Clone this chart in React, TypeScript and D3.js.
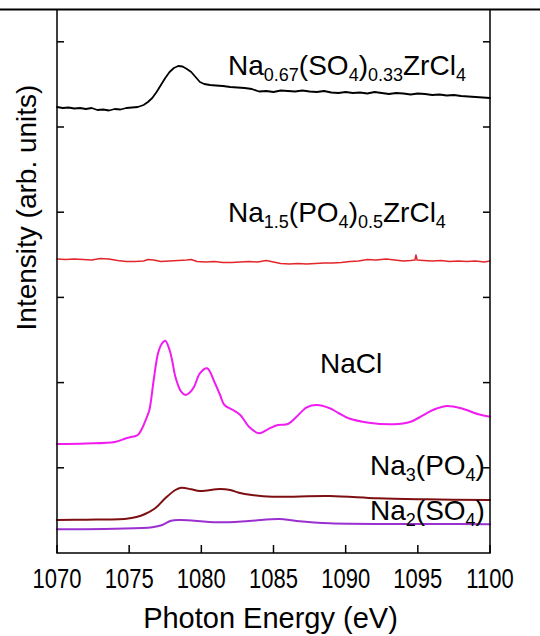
import React from 'react';
import * as d3 from 'd3';

// page + plot frame
const W = 540;
const H = 636;
const left = 57, right = 490, top = 10, bottom = 553;

// axis data
const xTicks = [1070, 1075, 1080, 1085, 1090, 1095, 1100];
const yTicks = [85.2, 170.4, 255.6, 340.8, 426, 511.2];

// spectra, [photon energy (eV), intensity (arb. units)]
const naSO4ZrCl4: [number, number][] = [
  [1070.0, 446], [1070.4, 445], [1070.8, 445.5], [1071.2, 444.5], [1071.6, 445], [1072.0, 444],
  [1072.4, 445], [1072.8, 443], [1073.2, 443.5], [1073.6, 442.5], [1074.0, 444], [1074.4, 443.5],
  [1074.8, 445], [1075.2, 445.5], [1075.6, 446], [1076.0, 448], [1076.3, 451], [1076.6, 455],
  [1076.9, 461], [1077.2, 468], [1077.5, 475], [1077.8, 481], [1078.1, 485], [1078.4, 487],
  [1078.7, 486.5], [1079.0, 484], [1079.3, 481], [1079.6, 476], [1079.9, 471], [1080.2, 469],
  [1080.6, 468], [1081.0, 467.5], [1081.5, 467], [1082.0, 466], [1082.5, 465.5], [1083.0, 465],
  [1083.5, 464], [1084.0, 461.5], [1084.5, 462], [1085.0, 461], [1085.5, 462.5], [1086.0, 462],
  [1086.5, 461.5], [1087.0, 462.5], [1087.5, 461.5], [1088.0, 461], [1088.5, 462], [1089.0, 460.5],
  [1089.5, 460], [1090.0, 461], [1090.5, 460], [1091.0, 460.5], [1091.5, 459.5], [1092.0, 461],
  [1092.5, 460], [1093.0, 459], [1093.5, 460], [1094.0, 459.5], [1094.5, 458.5], [1095.0, 459.5],
  [1095.5, 459], [1096.0, 458], [1096.5, 458.5], [1097.0, 457.5], [1097.5, 458], [1098.0, 457],
  [1098.5, 456.5], [1099.0, 456], [1099.5, 455.5], [1100.0, 455],
];

const naPO4ZrCl4: [number, number][] = [
  [1070.0, 294], [1070.6, 293.5], [1071.2, 294], [1071.8, 293.5], [1072.4, 293], [1073.0, 294.5],
  [1073.6, 294], [1074.2, 292.5], [1074.8, 291.5], [1075.4, 291.5], [1076.0, 292], [1076.3, 293.5],
  [1076.7, 293], [1077.2, 291.5], [1077.8, 292], [1078.4, 292.5], [1079.0, 293], [1079.3, 293.5],
  [1079.7, 291.5], [1080.3, 291], [1080.9, 291.5], [1081.5, 290.5], [1082.1, 290.5], [1082.7, 291],
  [1083.3, 291.5], [1083.9, 291], [1084.5, 292.5], [1085.0, 291], [1085.5, 289.5], [1086.1, 289],
  [1086.7, 289.5], [1087.3, 289], [1087.9, 289.5], [1088.5, 290], [1089.1, 290], [1089.7, 290.5],
  [1090.3, 291.5], [1090.9, 292], [1091.5, 293.5], [1092.1, 293], [1092.8, 294], [1093.4, 293],
  [1094.0, 292], [1094.5, 292.5], [1094.8, 293], [1094.87, 298], [1094.95, 293], [1095.4, 292.5],
  [1096.0, 292], [1096.6, 292.5], [1097.2, 291.5], [1097.8, 292], [1098.4, 291.5], [1099.0, 292],
  [1099.6, 291], [1100.0, 292],
];

const naCl: [number, number][] = [
  [1070.0, 109], [1072.0, 109.5], [1074.0, 111], [1074.8, 114.7], [1075.3, 116.5], [1075.6, 118],
  [1075.9, 124.7], [1076.2, 135], [1076.4, 143], [1076.7, 173], [1077.0, 199.7], [1077.25, 209],
  [1077.5, 212.3], [1077.8, 203], [1078.0, 191], [1078.2, 176.3], [1078.6, 161.3], [1078.9, 158],
  [1079.2, 160.5], [1079.5, 166.3], [1079.9, 179.7], [1080.4, 184.7], [1080.9, 171.3], [1081.3, 158],
  [1081.6, 148], [1082.2, 143], [1082.7, 138], [1083.3, 126.3], [1084.0, 119.7], [1084.6, 123.7],
  [1085.3, 128], [1086.0, 129], [1086.6, 136.3], [1087.3, 145.7], [1088.0, 148], [1088.9, 144.7],
  [1089.5, 140], [1090.2, 134.7], [1091.6, 130.3], [1093.3, 128.7], [1094.5, 131.3], [1095.6, 139.7],
  [1096.3, 144.5], [1097.0, 147], [1098.0, 144.7], [1099.2, 138.7], [1100.0, 136.3],
];

const na3PO4: [number, number][] = [
  [1070.0, 33], [1072.0, 33.3], [1074.8, 34.3], [1075.5, 36], [1076.1, 39], [1076.8, 44.7],
  [1077.5, 54.7], [1078.2, 63], [1078.6, 65.3], [1079.3, 63.7], [1079.9, 62], [1081.3, 64],
  [1082.0, 63], [1082.6, 60.3], [1083.5, 58], [1084.9, 56.3], [1088.9, 57], [1092.2, 54.7],
  [1095.6, 53.7], [1100.0, 53],
];

const na2SO4: [number, number][] = [
  [1070.0, 23.7], [1074.0, 24.3], [1076.6, 25.7], [1077.3, 28], [1077.9, 32.3], [1078.6, 33],
  [1081.1, 30.7], [1083.3, 32], [1085.4, 34], [1086.6, 32], [1088.9, 29.7], [1093.0, 29],
  [1096.0, 29], [1100.0, 28.7],
];

// label pieces: [text, subscript?]
const labelSO4Zr: [string, boolean][] = [['Na', false], ['0.67', true], ['(SO', false], ['4', true], [')', false], ['0.33', true], ['ZrCl', false], ['4', true]];
const labelPO4Zr: [string, boolean][] = [['Na', false], ['1.5', true], ['(PO', false], ['4', true], [')', false], ['0.5', true], ['ZrCl', false], ['4', true]];
const labelNaCl: [string, boolean][] = [['NaCl', false]];
const labelNa3PO4: [string, boolean][] = [['Na', false], ['3', true], ['(PO', false], ['4', true], [')', false]];
const labelNa2SO4: [string, boolean][] = [['Na', false], ['2', true], ['(SO', false], ['4', true], [')', false]];

const font = '"Liberation Sans", Arial, sans-serif';

const x = d3.scaleLinear().domain([1070, 1100]).range([left, right]);
const y = d3.scaleLinear().domain([0, bottom - top]).range([bottom, top]);

const series = [
  { data: naSO4ZrCl4, color: '#000000', w: 1.8, curve: d3.curveLinear },
  { data: naPO4ZrCl4, color: '#e3262b', w: 1.5, curve: d3.curveLinear },
  { data: naCl, color: '#f01cf0', w: 2, curve: d3.curveCatmullRom },
  { data: na3PO4, color: '#7d0f12', w: 2, curve: d3.curveCatmullRom },
  { data: na2SO4, color: '#9a30d0', w: 2, curve: d3.curveCatmullRom },
];

const labels = [
  { parts: labelSO4Zr, x: 228, y: 75 },
  { parts: labelPO4Zr, x: 228, y: 222 },
  { parts: labelNaCl, x: 320, y: 373 },
  { parts: labelNa3PO4, x: 370, y: 475 },
  { parts: labelNa2SO4, x: 370, y: 520 },
];

function Formula({ parts, x: lx, y: ly }: { parts: [string, boolean][]; x: number; y: number }) {
  let prevSub = false;
  return (
    <text x={lx} y={ly} fontFamily={font} fontSize={28} fill="#000">
      {parts.map(([t, sub], i) => {
        const dy = sub && !prevSub ? 6 : !sub && prevSub ? -6 : 0;
        prevSub = sub;
        return (
          <tspan key={i} dy={dy} fontSize={sub ? 18 : 28}>{t}</tspan>
        );
      })}
    </text>
  );
}

export default function App() {
  return (
    <svg width={W} height={H} style={{ position: 'absolute', left: 0, top: 0, background: '#fff' }}>
      <rect width={W} height={H} fill="#fff" />
      {series.map((s, i) => {
        const line = d3.line<[number, number]>()
          .x(d => x(d[0]))
          .y(d => y(d[1]))
          .curve(s.curve);
        return (
          <path key={i} d={line(s.data) || ''} fill="none" stroke={s.color}
            strokeWidth={s.w} strokeLinejoin="round" strokeLinecap="round" />
        );
      })}

      {/* frame */}
      <line x1={0} x2={W} y1={top - 0.5} y2={top - 0.5} stroke="#000" strokeWidth={2} />
      <path d={`M${left},${top} V${bottom} H${right} V${top}`} fill="none" stroke="#000" strokeWidth={1.5} />

      {/* ticks */}
      {yTicks.map((t, i) => (
        <g key={'y' + i}>
          <line x1={left} x2={left + 7} y1={y(t)} y2={y(t)} stroke="#000" strokeWidth={1.5} />
          <line x1={right} x2={right - 7} y1={y(t)} y2={y(t)} stroke="#000" strokeWidth={1.5} />
        </g>
      ))}
      {xTicks.map((t, i) => (
        <g key={'x' + i}>
          <line x1={x(t)} x2={x(t)} y1={bottom} y2={bottom - 8} stroke="#000" strokeWidth={1.5} />
          <text transform={`translate(${x(t)},588) scale(1,1.25)`} textAnchor="middle" fontFamily={font} fontSize={22}>{t}</text>
        </g>
      ))}

      <text x={(left + right) / 2 - 3} y={628} textAnchor="middle" fontFamily={font} fontSize={29}>Photon Energy (eV)</text>
      <text transform={`translate(36,${(top + bottom) / 2 - 74}) rotate(-90)`} textAnchor="middle" fontFamily={font} fontSize={28}>Intensity (arb. units)</text>

      {labels.map((l, i) => (
        <Formula key={i} parts={l.parts} x={l.x} y={l.y} />
      ))}
    </svg>
  );
}
